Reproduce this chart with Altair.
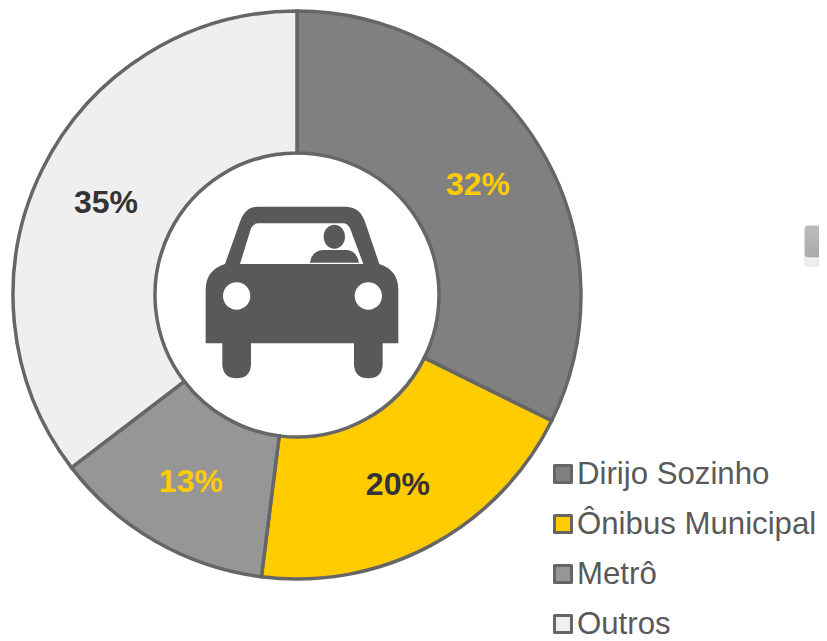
import altair as alt
import pandas as pd

categories = ["Dirijo Sozinho", "Ônibus Municipal", "Metrô", "Outros"]
shares = [32.3, 19.7, 12.6, 35.4]
labels = ["32%", "20%", "13%", "35%"]
fills = ["#808080", "#FFCC00", "#969696", "#EFEFEF"]
label_colors = ["#FFCC00", "#333333", "#FFCC00", "#333333"]

CAR = ("M200 50L470 50Q510 52 525 95L568 222Q625 240 625 300L625 460L578 460L578 525"
       "Q575 565 535 565Q495 565 492 525L492 460L183 460L183 525Q180 565 140 565"
       "Q100 565 97 525L97 460L47 460L47 300Q47 240 105 222L150 95Q165 52 200 50Z"
       "M150 222L520 222L480 115Q472 100 460 100L205 100Q190 100 183 115Z"
       "M99 318A41 41 0 1 0 181 318A41 41 0 1 0 99 318Z"
       "M494 318A41 41 0 1 0 576 318A41 41 0 1 0 494 318Z"
       "M401 140A32 36 0 1 1 465 140A32 36 0 1 1 401 140Z"
       "M360 218Q365 182 400 180L470 180Q500 182 507 218Z")

df = pd.DataFrame({"cat": categories, "share": shares, "label": labels,
                   "order": [0, 1, 2, 3], "lc": label_colors})

color = alt.Color("cat:N", scale=alt.Scale(domain=categories, range=fills), legend=None)
theta = alt.Theta("share:Q", stack=True, scale=alt.Scale(domain=[0, 100], range=[0, 6.28319]))
order = alt.Order("order:Q")
cx, cy = alt.value(289), alt.value(287)

base = alt.Chart(df)
arcs = base.mark_arc(innerRadius=142, outerRadius=284, stroke="#666666", strokeWidth=3.5).encode(
    theta=theta, color=color, order=order, x=cx, y=cy)
pct = base.mark_text(radius=213, font="Liberation Sans", fontSize=32, fontWeight="bold",
                     baseline="middle", align="center", dy=2).encode(
    theta=theta, order=order, x=cx, y=cy, text="label:N",
    color=alt.Color("lc:N", scale=None, legend=None))

rows = alt.Y("cat:N", sort=categories, axis=None, title=None,
             scale=alt.Scale(type="point", padding=0, range=[466, 616]))
squares = base.mark_point(shape="square", filled=True, size=289, stroke="#666666",
                          strokeWidth=3, opacity=1, strokeJoin="round").encode(
    x=alt.value(555), y=rows, fill=alt.Fill("cat:N", scale=alt.Scale(domain=categories, range=fills), legend=None))
names = base.mark_text(align="left", baseline="middle", font="Liberation Sans", fontSize=31.2,
                       dy=1, color="#595959").encode(x=alt.value(569), y=rows, text="cat:N")

icon = alt.Chart(pd.DataFrame({"a": [0]})).mark_point(
    shape=CAR, filled=True, size=4 / 9, color="#595959", opacity=1, strokeWidth=0).encode(
    x=alt.value(182), y=alt.value(182))

shadow = alt.Chart(pd.DataFrame({"a": [0]})).mark_rect(color="#EDEDED", cornerRadius=4).encode(
    x=alt.value(796), x2=alt.value(830), y=alt.value(225), y2=alt.value(259))
button = alt.Chart(pd.DataFrame({"a": [0]})).mark_rect(
    cornerRadius=4, stroke="#FFFFFF", strokeWidth=1,
    color=alt.Gradient(gradient="linear", x1=0, y1=0, x2=0, y2=1,
                       stops=[alt.GradientStop(offset=0, color="#BDBDBD"),
                              alt.GradientStop(offset=1, color="#A9A9A9")])).encode(
    x=alt.value(796), x2=alt.value(830), y=alt.value(217), y2=alt.value(250))

chart = alt.layer(
    shadow, button, arcs, pct, icon, squares, names
).resolve_scale(color="independent").properties(
    width=811, height=633, padding=0, autosize=alt.AutoSizeParams(type="none"),
    background="#FFFFFF"
).configure_view(stroke=None)

chart.save("out.html", embed_options={"renderer": "svg", "actions": False})
